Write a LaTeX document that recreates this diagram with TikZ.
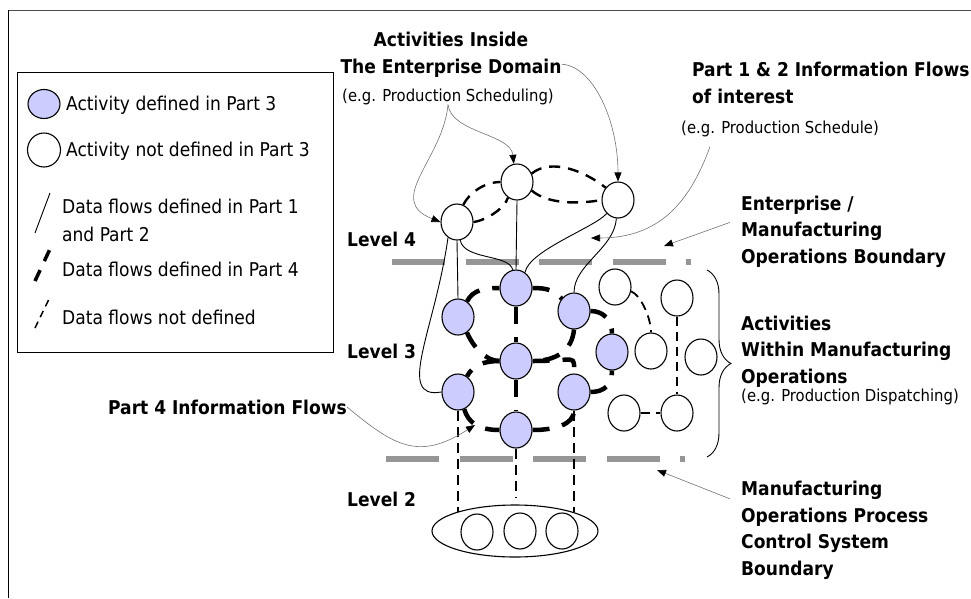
\documentclass[tikz,border=0pt]{standalone}
\usepackage{fontspec}
\setmainfont{DejaVu Sans Condensed}
\usetikzlibrary{shapes.geometric,arrows.meta,decorations.pathreplacing}
\definecolor{actfill}{RGB}{204,204,255}
\definecolor{bndgray}{RGB}{150,150,150}
\begin{document}
\begin{tikzpicture}[x=1pt,y=-1pt,
act/.style={ellipse,draw,line width=1.1pt,fill=actfill,minimum width=32pt,minimum height=36pt,inner sep=0pt},
oth/.style={act,fill=white},
lbl/.style={font=\bfseries\fontsize{19}{26.5}\selectfont,align=left,anchor=base west,inner sep=0pt},
eg/.style={font=\fontsize{16.5}{20}\selectfont,anchor=base west,inner sep=0pt},
key/.style={font=\fontsize{19}{28}\selectfont,align=left,anchor=base west,inner sep=0pt},
p4flow/.style={line width=4.5pt,dash pattern=on 17pt off 13pt},
l4flow/.style={line width=2.4pt,dash pattern=on 11pt off 8pt},
undef/.style={line width=1.8pt,dash pattern=on 9pt off 6pt},
lvl2/.style={line width=1.6pt,dash pattern=on 10pt off 6pt},
p12flow/.style={line width=0.9pt},
note/.style={line width=0.6pt,black!55,-{Triangle[length=9pt,width=7pt,color=black]}},
bnd/.style={bndgray,line width=6pt,dash pattern=on 53pt off 20.5pt}
]
\useasboundingbox (0,0) rectangle (971,598);
\draw[black!70,line width=1pt] (8,10) -- (971,10);
\draw[line width=1pt] (8,10) -- (8,598);

\draw[line width=1pt] (17,72) rectangle (333,352);
\node[act,minimum height=29pt] (k1) at (44,104) {};
\node[key] (k1t) at (66,110) {Activity defined in Part 3};
\node[oth,minimum width=33pt,minimum height=34pt] (k2) at (44,150) {};
\node[key] (k2t) at (66,156) {Activity not defined in Part 3};
\draw[p12flow] (35,233) -- (50,193);
\node[key] (k3t) at (62,241) {Data flows defined in Part 1\\and Part 2};
\draw[line width=3.5pt,dash pattern=on 12pt off 10pt] (35,281) -- (50,249);
\node[key] (k4t) at (62,276) {Data flows defined in Part 4};
\draw[line width=1.5pt,dash pattern=on 7pt off 5pt] (35,328) -- (50,297);
\node[key] (k5t) at (62,324) {Data flows not defined};

\node[oth] (e1) at (457,222) {};
\node[oth] (e2) at (517,182) {};
\node[oth] (e3) at (618,200) {};
\node[act] (m1) at (516,288) {};
\node[act] (m2) at (458,317) {};
\node[act] (m3) at (574,311) {};
\node[act] (m4) at (516,361) {};
\node[act] (m5) at (458,392) {};
\node[act] (m6) at (574,392) {};
\node[act] (m7) at (516,430) {};
\node[act] (m8) at (612,352) {};
\node[oth] (o1) at (615,287) {};
\node[oth] (o2) at (677,298) {};
\node[oth] (o3) at (651,351) {};
\node[oth] (o4) at (701,357) {};
\node[oth] (o5) at (624,413) {};
\node[oth] (o6) at (677,413) {};
\node[ellipse,draw,line width=1.1pt,minimum width=166pt,minimum height=52pt] (pcs) at (515,531) {};
\node[oth] (c1) at (477,532) {};
\node[oth] (c2) at (520,531) {};
\node[oth] (c3) at (562,531) {};
\coordinate (c2top) at (516,497);

\draw[bnd] (392,262) -- (691,262);
\draw[bnd] (386,459) -- (685,459);

\draw[l4flow] (e1.70) .. controls +(6,-12) and +(-16,0) .. (e2.west);
\draw[l4flow] (e1.east) .. controls +(14,-2) and +(-3,10) .. (e2.-120);
\draw[l4flow] (e2.30) .. controls +(20,-16) and +(-20,-16) .. (e3.135);
\draw[l4flow] (e2.-30) .. controls +(16,14) and +(-22,4) .. (e3.west);

\draw[p12flow] (e1.south) -- (m2.north);
\draw[p12flow] (e2.south) -- (m1.north);
\draw[p12flow] (e1.-80) .. controls +(4,20) and +(-4,-16) .. (m1.100);
\draw[p12flow] (m1.60) .. controls +(4,-22) and +(-12,14) .. (e3.-130);
\draw[p12flow] (e3.-95) .. controls +(-2,30) and +(0,-28) .. (m3.north);
\draw[p12flow] (e1.-120) .. controls (435,330) and (395,400) .. (m5.west);

\draw[p4flow] (m2.60) .. controls +(6,-12) and +(-14,0) .. (m1.west);
\draw[p4flow] (m1.east) .. controls +(16,0) and +(-8,-8) .. (m3.135);
\draw[p4flow] (m3.east) .. controls +(14,0) and +(0,-12) .. (m8.north);
\draw[p4flow] (m3.south) .. controls +(-2,22) and +(22,0) .. (m4.east);
\draw[p4flow] (m4.east) .. controls +(45,0) and +(0,-20) .. (m6.north);
\draw[p4flow] (m2.-60) .. controls +(6,14) and +(-14,0) .. (m4.west);
\draw[p4flow] (m4.west) .. controls +(-14,0) and +(6,-12) .. (m5.60);
\draw[p4flow] (m5.-70) .. controls +(4,14) and +(-20,0) .. (m7.west);
\draw[p4flow] (m7.east) .. controls +(22,0) and +(0,14) .. (m6.south);
\draw[p4flow] (m6.east) .. controls +(14,0) and +(0,14) .. (m8.south);
\draw[p4flow] (m1.south) -- (m4.north);
\draw[p4flow] (m4.south) -- (m7.north);

\draw[undef] (o1.-15) .. controls +(10,4) and +(0,-14) .. (o3.north);
\draw[undef] (o2.south) -- (o6.north);
\draw[undef] (o5.east) -- (o6.west);

\draw[lvl2] (m5.south) -- (m5.south |- pcs.162);
\draw[lvl2] (m7.south) -- (c2top);
\draw[lvl2] (m6.south) -- (m6.south |- pcs.18);

\draw[line width=0.9pt,decorate,decoration={brace,amplitude=24pt,aspect=0.5}] (707,270) -- (707,457);

\node[lbl] (lev4) at (347,246) {Level 4};
\node[lbl] (lev3) at (347,358) {Level 3};
\node[lbl] (lev2) at (347,506) {Level 2};
\node[lbl,anchor=base,align=center] (inside) at (451,73) {Activities Inside\\The Enterprise Domain};
\node[eg,anchor=base] (sched) at (448,101) {(e.g. Production Scheduling)};
\node[lbl] (p12) at (692,103) {Part 1 \& 2 Information Flows\\of interest};
\node[eg] (sched2) at (681,133) {(e.g. Production Schedule)};
\node[lbl] (bnd1) at (741,263) {Enterprise /\\Manufacturing\\Operations Boundary};
\node[lbl] (within) at (741,383) {Activities\\Within Manufacturing\\Operations};
\node[eg] (disp) at (741,401) {(e.g. Production Dispatching)};
\node[lbl] (bnd2) at (741,575) {Manufacturing\\Operations Process\\Control System\\Boundary};
\node[lbl] (p4) at (108,414) {Part 4 Information Flows};

\coordinate (p12tip) at (591,238);
\coordinate (bnd1tip) at (664,246);
\coordinate (bnd2tip) at (657,470);
\coordinate (p4tip) at (475,425);
\draw[note] (sched.south) .. controls +(3,28) and +(-3,-30) .. (e2.100);
\draw[note] (sched.south) .. controls +(-5,55) and +(-56,-22) .. (e1.west);
\draw[note] (inside.-5) .. controls +(32,2) and +(0,-60) .. (e3.north);
\draw[note] ([xshift=29pt,yshift=-10pt]sched2.south west) .. controls +(-20,55) and +(69,0) .. (p12tip);
\draw[note] ([xshift=-11pt,yshift=-27pt]bnd1.north west) -- (bnd1tip);
\draw[note] ([xshift=-11pt,yshift=-18pt]bnd2.north west) -- (bnd2tip);
\draw[note] (p4.east) .. controls +(49,41) and +(-55,35) .. (p4tip);
\end{tikzpicture}
\end{document}
